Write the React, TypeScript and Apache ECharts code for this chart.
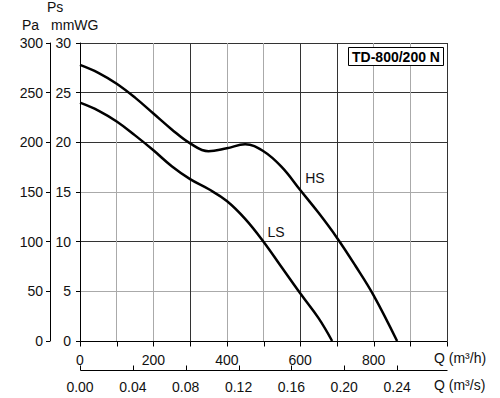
import React, { useEffect, useRef } from "react";
import * as echarts from "echarts";

const qHS = [0, 50, 100, 150, 200, 250, 300, 350, 400, 450, 500, 550, 600, 650, 700, 750, 800, 864];
const psHS = [27.8, 27.0, 25.9, 24.5, 22.9, 21.3, 19.9, 19.1, 19.4, 19.8, 19.1, 17.5, 15.2, 12.9, 10.4, 7.6, 4.6, 0];
const qLS = [0, 50, 100, 150, 200, 250, 300, 350, 400, 450, 500, 550, 600, 650, 687];
const psLS = [24.0, 23.2, 22.1, 20.7, 19.2, 17.6, 16.3, 15.3, 14.1, 12.3, 10.0, 7.4, 4.8, 2.3, 0];
const seriesNames = ["HS", "LS"];
const labelPos = [[640, 16.4], [534, 11.0]];
const qTicks = [0, 100, 200, 300, 400, 500, 600, 700, 800, 900, 1000];
const sTicks = [0, 0.04, 0.08, 0.12, 0.16, 0.2, 0.24];
const title = "TD-800/200 N";

const FONT = "Liberation Sans, Arial, sans-serif";
const DARK = "#333";
const GREY = "#aaa";

export default function App() {
  const ref = useRef<HTMLDivElement>(null);
  useEffect(() => {
    document.body.style.margin = "0";
    const chart = echarts.init(ref.current!, undefined, { renderer: "svg" });
    const mk = (q: number[], p: number[]) => q.map((v, i) => [v, p[i]]);
    const datasets = [mk(qHS, psHS), mk(qLS, psLS)];
    const txt = { fontFamily: FONT, fontSize: 14, color: "#111" };
    chart.setOption({
      animation: false,
      backgroundColor: "#fff",
      grid: { left: 80, top: 43, right: 53, bottom: 57 },
      xAxis: [
        {
          type: "value", min: 0, max: 1000, interval: 100, position: "bottom",
          axisLine: { show: false, onZero: false },
          axisTick: { show: false },
          axisLabel: { ...txt, margin: 12, formatter: (v: number) => (v % 200 === 0 && v < 1000 ? String(v) : "") },
          splitLine: { show: true, lineStyle: { width: 1, color: [DARK, GREY, GREY, DARK, GREY, GREY, DARK, DARK, GREY, GREY, DARK] } },
        },
        {
          type: "value", min: 0, max: 1000 / 3600, interval: 0.04, position: "bottom", offset: 29,
          axisLine: { show: false, onZero: false },
          axisTick: { show: false },
          axisLabel: { ...txt, margin: 10, formatter: (v: number) => (v < 0.25 ? v.toFixed(2) : "") },
          splitLine: { show: false },
        },
      ],
      yAxis: [
        {
          type: "value", min: 0, max: 30, interval: 5, position: "left",
          axisLine: { show: true, onZero: false, lineStyle: { color: "#000", width: 1 } },
          axisTick: { show: true, inside: false, length: 4, lineStyle: { color: "#000" } },
          axisLabel: { ...txt, margin: 9 },
          splitLine: { show: true, lineStyle: { width: 1, color: [DARK, GREY, DARK, GREY, DARK, DARK, DARK] } },
        },
        {
          type: "value", min: 0, max: 300, interval: 50, position: "left", offset: 30,
          axisLine: { show: true, onZero: false, lineStyle: { color: "#000", width: 1 } },
          axisTick: { show: true, inside: false, length: 4, lineStyle: { color: "#000" } },
          axisLabel: { ...txt, margin: 7 },
          splitLine: { show: false },
        },
      ],
      series: datasets.map((d, i) => ({
        name: seriesNames[i],
        type: "line",
        xAxisIndex: 0,
        yAxisIndex: 0,
        data: d,
        smooth: 0.4,
        showSymbol: false,
        lineStyle: { color: "#000", width: 2.5 },
        markPoint: {
          symbol: "circle",
          symbolSize: 0,
          label: { show: true, position: "inside", formatter: seriesNames[i], ...txt },
          data: [{ coord: labelPos[i] }],
        },
      })),
    });

    // Axis lines and ticks for the two flow axes, placed through the chart's own scales.
    const px = (axis: number, v: number) => chart.convertToPixel({ xAxisIndex: axis } as any, v) as number;
    const y0 = Math.round(chart.convertToPixel({ yAxisIndex: 0 } as any, 0) as number) + 0.5;
    const y1 = y0 + 29;
    const xL = Math.round(px(0, qTicks[0])) + 0.5;
    const xR = Math.round(px(0, qTicks[qTicks.length - 1])) + 0.5;
    const lineStyle = { stroke: "#000", lineWidth: 1 };
    const axisGraphics: any[] = [
      { type: "line", silent: true, z: 5, shape: { x1: xL, y1: y0, x2: xR, y2: y0 }, style: lineStyle },
      { type: "line", silent: true, z: 5, shape: { x1: xL, y1: y1, x2: xR, y2: y1 }, style: lineStyle },
      ...qTicks.map((t) => {
        const x = Math.round(px(0, t)) + 0.5;
        return { type: "line", silent: true, z: 5, shape: { x1: x, y1: y0, x2: x, y2: y0 + 5 }, style: lineStyle };
      }),
      ...sTicks.map((t) => {
        const x = Math.round(px(1, t)) + 0.5;
        return { type: "line", silent: true, z: 5, shape: { x1: x, y1: y1, x2: x, y2: y1 - 5 }, style: lineStyle };
      }),
    ];

    chart.setOption({
      graphic: [
        ...axisGraphics,
        { type: "text", left: 47, top: 0, style: { text: "Ps", font: `14px ${FONT}`, fill: "#111" } },
        { type: "text", left: 22, top: 18, style: { text: "Pa", font: `14px ${FONT}`, fill: "#111" } },
        { type: "text", left: 51, top: 18, style: { text: "mmWG", font: `14px ${FONT}`, fill: "#111" } },
        { type: "text", left: 434, top: 351, style: { text: "Q (m³/h)", font: `14px ${FONT}`, fill: "#111" } },
        { type: "text", left: 434, top: 378, style: { text: "Q (m³/s)", font: `14px ${FONT}`, fill: "#111" } },
        {
          type: "rect", shape: { x: 348.5, y: 47.5, width: 95, height: 18 },
          style: { fill: "#fff", stroke: "#000", lineWidth: 1 }, z: 10,
        },
        {
          type: "text", x: 396, y: 57, z: 11,
          style: { text: title, font: `bold 14px ${FONT}`, fill: "#000", align: "center", verticalAlign: "middle" },
        },
      ],
    });
    return () => chart.dispose();
  }, []);
  return <div ref={ref} style={{ width: 500, height: 398 }} />;
}
